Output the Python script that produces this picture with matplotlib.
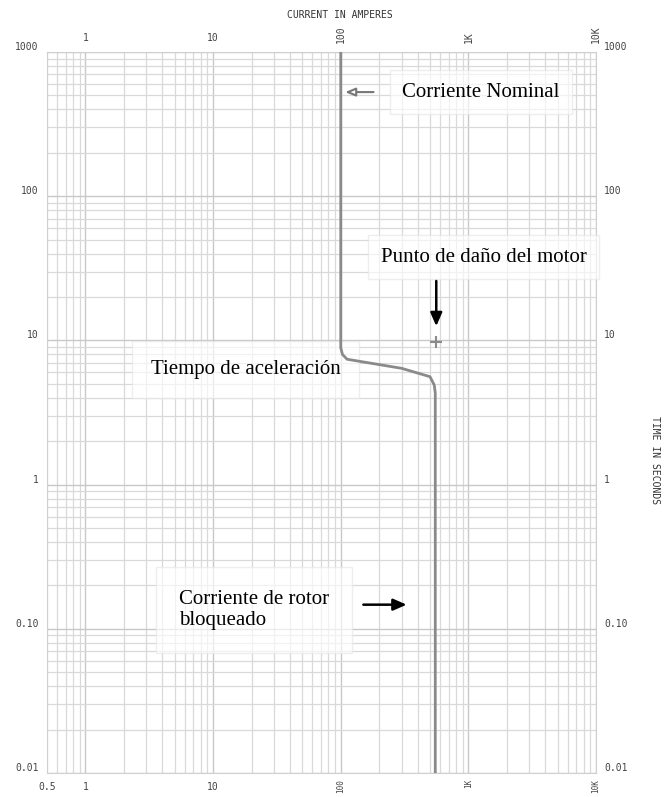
import matplotlib
matplotlib.use("Agg")
import matplotlib.pyplot as plt
from matplotlib.ticker import LogLocator, NullFormatter
import matplotlib.transforms as mtransforms

# Motor starting curve (amperes, seconds)
motor_current = [100, 100, 103, 112, 300, 500, 540, 550, 550]
motor_time = [1000, 8.9, 8.0, 7.4, 6.4, 5.6, 4.9, 4.3, 0.01]

# Motor damage point
damage_current = [560]
damage_time = [9.8]

# Axis ticks and labels
x_ticks = [0.5, 1, 10, 100, 1000, 10000]
x_labels = ["0.5", "1", "10", "100", "1K", "10K"]
top_ticks = [1, 10, 100, 1000, 10000]
top_labels = ["1", "10", "100", "1K", "10K"]
y_ticks = [1000, 100, 10, 1, 0.1, 0.01]
y_labels = ["1000", "100", "10", "1", "0.10", "0.01"]

fig = plt.figure(figsize=(6.66, 7.97), dpi=100)
ax = fig.add_axes([0.0706, 0.0301, 0.8244, 0.9047])
ax.set_xscale("log")
ax.set_yscale("log")
ax.set_xlim(0.5, 10000)
ax.set_ylim(0.01, 1000)

# log paper grid
ax.xaxis.set_major_locator(LogLocator(base=10, numticks=20))
ax.xaxis.set_minor_locator(LogLocator(base=10, subs=range(2, 10), numticks=50))
ax.yaxis.set_major_locator(LogLocator(base=10, numticks=20))
ax.yaxis.set_minor_locator(LogLocator(base=10, subs=range(2, 10), numticks=50))
ax.xaxis.set_major_formatter(NullFormatter())
ax.xaxis.set_minor_formatter(NullFormatter())
ax.yaxis.set_major_formatter(NullFormatter())
ax.yaxis.set_minor_formatter(NullFormatter())
ax.tick_params(which="both", length=0)
ax.grid(which="major", color="#c8c8c8", linewidth=1.0)
ax.grid(which="minor", color="#d9d9d9", linewidth=0.9)
for s in ax.spines.values():
    s.set_color("#d0d0d0")

# curve and damage point (drawn over the label boxes)
ax.plot(motor_current, motor_time, color="#8a8a8a", linewidth=2.0, zorder=7)
ax.plot(damage_current, damage_time, marker="+", color="#8a8a8a",
        markersize=9, markeredgewidth=1.5, linestyle="none", zorder=7)

tick_font = dict(family="DejaVu Sans Mono", fontsize=7, color="#444444")
small_font = dict(family="DejaVu Sans Mono", fontsize=5.5, color="#444444")

# x tick labels bottom and top
xb = mtransforms.blended_transform_factory(ax.transData, ax.transAxes)
for v, lab in zip(x_ticks, x_labels):
    if lab in ("0.5", "1", "10"):
        ax.text(v, -0.012, lab, transform=xb, ha="center", va="top", **tick_font)
    else:
        ax.text(v, -0.008, lab, transform=xb, ha="center", va="top",
                rotation=90, **small_font)
for v, lab in zip(top_ticks, top_labels):
    rot = 90 if lab not in ("1", "10") else 0
    ax.text(v, 1.012, lab, transform=xb, ha="center", va="bottom",
            rotation=rot, **tick_font)

# y tick labels left and right
yb = mtransforms.blended_transform_factory(ax.transAxes, ax.transData)
for v, lab in zip(y_ticks, y_labels):
    ax.text(-0.015, v, lab, transform=yb, ha="right", va="bottom", **tick_font)
    ax.text(1.015, v, lab, transform=yb, ha="left", va="bottom", **tick_font)

fig.text(0.511, 0.981, "CURRENT IN AMPERES", ha="center", va="center",
         family="DejaVu Sans Mono", fontsize=7, color="#333333")
fig.text(0.984, 0.423, "TIME IN SECONDS", ha="center", va="center",
         rotation=270, family="DejaVu Sans Mono", fontsize=7, color="#333333")

# annotations
box = dict(boxstyle="square,pad=0.6", facecolor="white", alpha=0.65,
           edgecolor="#e6e6e6", linewidth=1)
txt = dict(family="Liberation Serif", fontsize=15, color="black", zorder=5)

ax.text(1250, 527, "Corriente Nominal", ha="center", va="center", bbox=box, **txt)
ax.annotate("", xy=(103, 527), xytext=(190, 527),
            arrowprops=dict(arrowstyle="-|>,head_length=0.6,head_width=0.25",
                            facecolor="white", edgecolor="#777777", lw=1.5),
            zorder=8)

ax.text(1320, 37.7, "Punto de daño del motor", ha="center", va="center",
        bbox=box, **txt)
ax.annotate("", xy=(560, 12.0), xytext=(560, 27),
            arrowprops=dict(arrowstyle="-|>,head_length=0.8,head_width=0.35",
                            color="black", lw=1.8), zorder=8)

ax.text(18, 6.3, "Tiempo de aceleración", ha="center", va="center",
        bbox=dict(boxstyle="square,pad=0.9", facecolor="white", alpha=0.65,
                  edgecolor="#e6e6e6", linewidth=1), **txt)

ax.text(5.4, 0.135, "Corriente de rotor\nbloqueado", ha="left", va="center",
        linespacing=1.1, bbox=dict(boxstyle="square,pad=1.1", facecolor="white",
                                   alpha=0.65, edgecolor="#e6e6e6", linewidth=1),
        **txt)
ax.annotate("", xy=(345, 0.147), xytext=(143, 0.147),
            arrowprops=dict(arrowstyle="-|>,head_length=0.8,head_width=0.35",
                            color="black", lw=1.8), zorder=8)

fig.savefig("out.png", dpi=100)
